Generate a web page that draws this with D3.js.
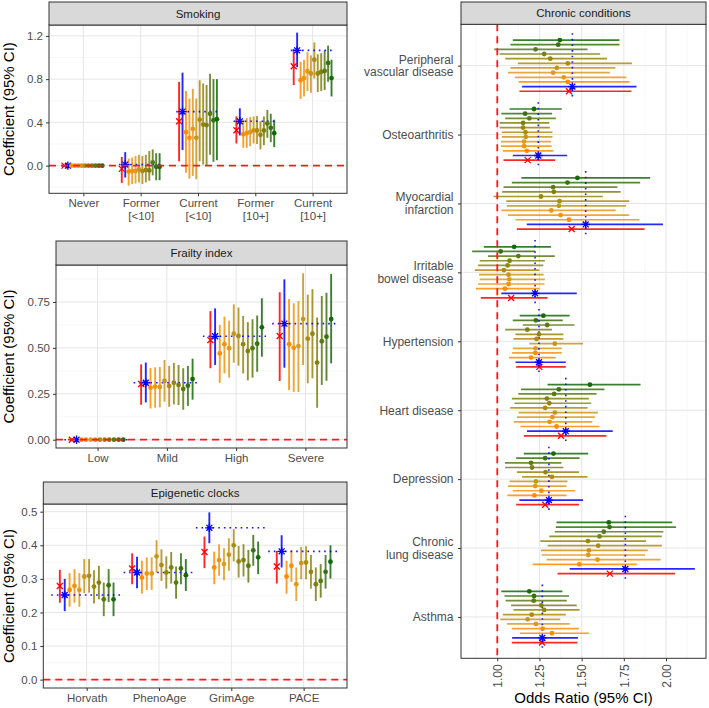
<!DOCTYPE html>
<html><head><meta charset="utf-8">
<script src="https://cdn.jsdelivr.net/npm/d3@7"></script>
<style>body{margin:0;background:#fff} text{font-family:"Liberation Sans",Arial,sans-serif}</style>
</head><body><svg id="c" width="709" height="708"></svg>
<script>
// ---- series (red X, blue asterisk, then 10 graded series) ----
const seriesNames = ["Model A","Model B","S1","S2","S3","S4","S5","S6","S7","S8","S9","S10"];
const seriesColors = ["#FF0000","#0000FF","#FF8C00","#F29310","#DF9A1E","#C8951C","#B08A10","#968512","#7E8010","#5A7A14","#387012","#146A0A"];

// ---- Smoking ----
const smokingCats = ["Never","Former\n[<10]","Current\n[<10]","Former\n[10+]","Current\n[10+]"];
const smokingEst = [
  [0,0,0,0,0,0,0,0,0,0,0,0],
  [-0.03,0.01,-0.055,-0.05,-0.05,-0.035,-0.05,-0.04,-0.045,0.03,-0.01,-0.01],
  [0.41,0.50,0.31,0.257,0.34,0.257,0.425,0.38,0.375,0.48,0.42,0.43],
  [0.327,0.41,0.29,0.30,0.31,0.327,0.325,0.285,0.325,0.39,0.35,0.30],
  [0.919,1.066,0.79,0.81,0.873,0.852,0.98,0.852,0.867,0.876,0.95,0.81]];
const smokingLo = [
  [0,0,0,0,0,0,0,0,0,0,0,0],
  [-0.16,-0.11,-0.185,-0.17,-0.165,-0.155,-0.17,-0.155,-0.14,-0.09,-0.135,-0.135],
  [0.04,0.145,-0.065,-0.12,-0.095,-0.125,0.04,0.01,0.005,0.10,0.035,0.05],
  [0.205,0.28,0.165,0.165,0.18,0.205,0.2,0.15,0.19,0.257,0.217,0.171],
  [0.745,0.91,0.617,0.64,0.69,0.675,0.806,0.68,0.69,0.70,0.776,0.64]];
const smokingHi = [
  [0,0,0,0,0,0,0,0,0,0,0,0],
  [0.08,0.125,0.065,0.075,0.09,0.1,0.09,0.1,0.135,0.15,0.115,0.115],
  [0.775,0.86,0.69,0.62,0.71,0.62,0.79,0.76,0.745,0.85,0.80,0.80],
  [0.455,0.53,0.425,0.44,0.45,0.455,0.46,0.41,0.455,0.515,0.48,0.425],
  [1.08,1.23,0.96,0.98,1.05,1.02,1.14,1.03,1.04,1.065,1.11,0.98]];
const smokingTicks = [0,0.4,0.8,1.2];

// ---- Frailty index ----
const frailtyCats = ["Low","Mild","High","Severe"];
const frailtyEst = [
  [0,0,0,0,0,0,0,0,0,0,0,0],
  [0.303,0.31,0.283,0.289,0.287,0.32,0.292,0.31,0.298,0.276,0.294,0.33],
  [0.543,0.563,0.47,0.52,0.498,0.577,0.565,0.52,0.483,0.498,0.523,0.612],
  [0.565,0.632,0.52,0.50,0.51,0.657,0.55,0.577,0.42,0.536,0.561,0.657]];
const frailtyLo = [
  [0,0,0,0,0,0,0,0,0,0,0,0],
  [0.19,0.203,0.17,0.174,0.176,0.207,0.179,0.192,0.189,0.163,0.184,0.218],
  [0.389,0.407,0.31,0.361,0.338,0.419,0.403,0.361,0.323,0.338,0.37,0.452],
  [0.32,0.392,0.27,0.26,0.26,0.407,0.307,0.334,0.174,0.298,0.321,0.416]];
const frailtyHi = [
  [0,0,0,0,0,0,0,0,0,0,0,0],
  [0.41,0.42,0.39,0.394,0.396,0.434,0.402,0.418,0.407,0.389,0.402,0.441],
  [0.70,0.715,0.625,0.67,0.648,0.737,0.72,0.674,0.64,0.656,0.676,0.77],
  [0.803,0.873,0.766,0.743,0.755,0.906,0.79,0.82,0.665,0.783,0.80,0.902]];
const frailtyTicks = [0,0.25,0.5,0.75];

// ---- Epigenetic clocks ----
const clockCats = ["Horvath","PhenoAge","GrimAge","PACE"];
const clockEst = [
  [0.279,0.252,0.267,0.279,0.267,0.307,0.309,0.277,0.289,0.239,0.281,0.239],
  [0.331,0.319,0.304,0.316,0.316,0.367,0.341,0.319,0.334,0.289,0.331,0.311],
  [0.38,0.452,0.334,0.356,0.344,0.372,0.40,0.352,0.356,0.339,0.385,0.364],
  [0.337,0.382,0.307,0.339,0.284,0.347,0.349,0.321,0.284,0.294,0.321,0.351]];
const clockLo = [
  [0.229,0.204,0.217,0.229,0.217,0.257,0.259,0.227,0.239,0.189,0.231,0.189],
  [0.284,0.272,0.256,0.267,0.267,0.319,0.294,0.271,0.286,0.241,0.284,0.264],
  [0.332,0.406,0.284,0.309,0.296,0.324,0.352,0.304,0.307,0.289,0.339,0.314],
  [0.286,0.334,0.256,0.291,0.234,0.299,0.299,0.271,0.234,0.244,0.271,0.301]];
const clockHi = [
  [0.327,0.30,0.317,0.329,0.317,0.359,0.359,0.326,0.339,0.289,0.329,0.289],
  [0.376,0.366,0.354,0.364,0.364,0.415,0.388,0.367,0.38,0.337,0.376,0.359],
  [0.426,0.498,0.381,0.403,0.391,0.421,0.448,0.398,0.403,0.386,0.431,0.411],
  [0.383,0.43,0.354,0.385,0.334,0.395,0.397,0.371,0.334,0.344,0.371,0.40]];
const clockTicks = [0,0.1,0.2,0.3,0.4,0.5];

// ---- Chronic conditions (odds ratios) ----
const condCats = ["Peripheral\nvascular disease","Osteoarthritis","Myocardial\ninfarction","Irritable\nbowel disease","Hypertension","Heart disease","Depression","Chronic\nlung disease","Asthma"];
const condEst = [
  [1.425,1.445,1.418,1.394,1.331,1.353,1.418,1.314,1.278,1.227,1.361,1.371],
  [1.18,1.243,1.175,1.159,1.159,1.169,1.167,1.153,1.153,1.19,1.165,1.218],
  [1.441,1.524,1.425,1.375,1.32,1.365,1.369,1.259,1.335,1.331,1.416,1.475],
  [1.082,1.224,1.045,1.067,1.071,1.067,1.039,1.061,1.073,1.125,1.02,1.10],
  [1.249,1.247,1.20,1.225,1.227,1.341,1.233,1.247,1.178,1.296,1.229,1.273],
  [1.378,1.406,1.351,1.31,1.327,1.341,1.284,1.308,1.294,1.337,1.365,1.549],
  [1.284,1.306,1.22,1.261,1.225,1.229,1.324,1.286,1.206,1.20,1.284,1.333],
  [1.667,1.759,1.486,1.594,1.539,1.543,1.598,1.537,1.606,1.631,1.665,1.661],
  [1.265,1.267,1.324,1.269,1.229,1.18,1.204,1.278,1.261,1.216,1.218,1.19]];
const condLo = [
  [1.131,1.147,1.127,1.104,1.063,1.078,1.122,1.047,1.014,0.982,1.078,1.092],
  [1.037,1.092,1.033,1.022,1.022,1.027,1.027,1.014,1.014,1.047,1.024,1.073],
  [1.116,1.175,1.108,1.063,1.025,1.057,1.053,0.978,1.029,1.037,1.086,1.143],
  [0.902,1.024,0.873,0.886,0.896,0.892,0.867,0.886,0.896,0.945,0.851,0.92],
  [1.112,1.108,1.069,1.088,1.092,1.19,1.096,1.108,1.047,1.151,1.092,1.133],
  [1.157,1.176,1.137,1.098,1.116,1.127,1.076,1.102,1.086,1.125,1.141,1.298],
  [1.112,1.131,1.059,1.092,1.063,1.073,1.147,1.116,1.047,1.045,1.112,1.157],
  [1.357,1.429,1.21,1.292,1.263,1.259,1.298,1.255,1.308,1.341,1.347,1.351],
  [1.086,1.088,1.135,1.086,1.057,1.018,1.033,1.096,1.082,1.049,1.043,1.024]];
const condHi = [
  [1.794,1.825,1.784,1.765,1.667,1.70,1.798,1.651,1.61,1.535,1.724,1.724],
  [1.343,1.414,1.331,1.322,1.318,1.327,1.327,1.312,1.308,1.347,1.325,1.382],
  [1.873,1.982,1.841,1.782,1.702,1.763,1.782,1.625,1.731,1.712,1.847,1.906],
  [1.298,1.471,1.251,1.280,1.282,1.275,1.249,1.273,1.282,1.341,1.224,1.318],
  [1.406,1.406,1.347,1.382,1.382,1.508,1.392,1.392,1.324,1.457,1.388,1.429],
  [1.647,1.684,1.606,1.563,1.578,1.596,1.535,1.557,1.543,1.588,1.635,1.849],
  [1.484,1.508,1.41,1.461,1.41,1.416,1.535,1.484,1.392,1.38,1.488,1.539],
  [2.053,2.171,1.827,1.969,1.876,1.892,1.975,1.882,1.975,1.984,2.059,2.037],
  [1.475,1.478,1.543,1.484,1.429,1.373,1.406,1.488,1.471,1.412,1.425,1.386]];
const condTicks = [1.00,1.25,1.50,1.75,2.00];

// ================= drawing =================
const svg = d3.select("#c");
const TICKCOL = "#4D4D4D", BORDER = "#333333", MAJOR = "#E6E6E6", MINOR = "#F2F2F2";

function padExtent(arrs, ref){
  const v = arrs.flatMap(a => a.flat()).concat([ref]);
  const [mn, mx] = d3.extent(v); const p = (mx - mn) * 0.05;
  return [mn - p, mx + p];
}
function minorOf(ticks, dom){
  const s = ticks[1] - ticks[0];
  return d3.range(ticks[0] - s/2, ticks[ticks.length-1] + s, s).filter(v => v > dom[0] && v < dom[1]);
}
function marker(g, kind, cx, cy, col){
  if (kind === 0){
    const s = 3;
    g.append("path").attr("d",`M${cx-s},${cy-s}L${cx+s},${cy+s}M${cx-s},${cy+s}L${cx+s},${cy-s}`)
      .attr("stroke",col).attr("stroke-width",1.3).attr("fill","none");
  } else if (kind === 1){
    const r = 4.2, d = r*0.7071;
    g.append("path").attr("d",`M${cx-r},${cy}L${cx+r},${cy}M${cx},${cy-r}L${cx},${cy+r}M${cx-d},${cy-d}L${cx+d},${cy+d}M${cx-d},${cy+d}L${cx+d},${cy-d}`)
      .attr("stroke",col).attr("stroke-width",1.3).attr("fill","none");
  } else {
    g.append("circle").attr("cx",cx).attr("cy",cy).attr("r",2.4).attr("fill",col);
  }
}
function strip(x0,x1,y0,y1,label){
  svg.append("rect").attr("x",x0).attr("y",y0).attr("width",x1-x0).attr("height",y1-y0)
    .attr("fill","#D9D9D9").attr("stroke",BORDER).attr("stroke-width",1);
  svg.append("text").attr("x",(x0+x1)/2).attr("y",(y0+y1)/2).attr("dy","0.35em")
    .attr("text-anchor","middle").attr("font-size",11.5).attr("fill","#1A1A1A").text(label);
}
function styleAxis(ax, fs){
  ax.select(".domain").remove();
  ax.selectAll(".tick line").attr("stroke",BORDER);
  ax.selectAll(".tick text").attr("fill",TICKCOL).attr("font-size",fs).attr("font-family","Liberation Sans, Arial, sans-serif");
}

function leftPanel(c){
  const x = d3.scalePoint().domain(c.cats).range([c.x0, c.x1]).padding(0.6);
  const dom = padExtent([c.est, c.lo, c.hi], 0);
  const y = d3.scaleLinear().domain(dom).range([c.y1, c.y0]);
  const g = svg.append("g");
  g.append("rect").attr("x",c.x0).attr("y",c.y0).attr("width",c.x1-c.x0).attr("height",c.y1-c.y0).attr("fill","#fff");
  minorOf(c.ticks, dom).forEach(v => g.append("line").attr("x1",c.x0).attr("x2",c.x1).attr("y1",y(v)).attr("y2",y(v)).attr("stroke",MINOR).attr("stroke-width",0.6));
  c.ticks.forEach(v => g.append("line").attr("x1",c.x0).attr("x2",c.x1).attr("y1",y(v)).attr("y2",y(v)).attr("stroke",MAJOR).attr("stroke-width",1));
  c.cats.forEach(k => g.append("line").attr("x1",x(k)).attr("x2",x(k)).attr("y1",c.y0).attr("y2",c.y1).attr("stroke",MAJOR).attr("stroke-width",1));
  const step = c.dodge * x.step();
  const px = (ci, si) => x(c.cats[ci]) + (si - 5.5) * step;
  c.cats.forEach((k, ci) => seriesNames.forEach((s, si) => {
    g.append("line").attr("x1",px(ci,si)).attr("x2",px(ci,si)).attr("y1",y(c.lo[ci][si])).attr("y2",y(c.hi[ci][si]))
      .attr("stroke",seriesColors[si]).attr("stroke-width",1.9).attr("stroke-opacity",0.85);
  }));
  c.cats.forEach((k, ci) => g.append("line").attr("x1",x(k)-c.bh*x.step()).attr("x2",x(k)+c.bh*x.step())
    .attr("y1",y(c.est[ci][1])).attr("y2",y(c.est[ci][1])).attr("stroke","#0000FF").attr("stroke-width",1.6)
    .attr("stroke-dasharray","1.6,4").attr("opacity",0.9));
  c.cats.forEach((k, ci) => seriesNames.forEach((s, si) => marker(g, si < 2 ? si : 2, px(ci,si), y(c.est[ci][si]), seriesColors[si])));
  g.append("line").attr("x1",c.x0).attr("x2",c.x1).attr("y1",y(0)).attr("y2",y(0)).attr("stroke","#FF1A1A")
    .attr("stroke-width",1.8).attr("stroke-dasharray","7,5");
  g.append("rect").attr("x",c.x0).attr("y",c.y0).attr("width",c.x1-c.x0).attr("height",c.y1-c.y0)
    .attr("fill","none").attr("stroke",BORDER).attr("stroke-width",1);
  strip(c.x0, c.x1, c.sy, c.y0, c.title);
  const ay = svg.append("g").attr("transform",`translate(${c.x0},0)`)
    .call(d3.axisLeft(y).tickValues(c.ticks).tickFormat(d3.format(c.fmt)).tickSize(3).tickPadding(3));
  styleAxis(ay, 11.5);
  const axx = svg.append("g").attr("transform",`translate(0,${c.y1})`)
    .call(d3.axisBottom(x).tickSize(3).tickPadding(3));
  styleAxis(axx, 11.5);
  axx.selectAll(".tick text").each(function(d){
    const t = d3.select(this); const lines = d.split("\n"); t.text(null); t.attr("dy", null);
    lines.forEach((l, i) => t.append("tspan").attr("x",0).attr("dy", i === 0 ? "0.71em" : "1.08em").text(l));
  });
  svg.append("text").attr("transform",`translate(13.5,${(c.y0+c.y1)/2}) rotate(-90)`).attr("text-anchor","middle")
    .attr("font-size",15).attr("fill","#000").text("Coefficient (95% CI)");
}

function rightPanel(c){
  const dom = padExtent([c.est, c.lo, c.hi], 1);
  const x = d3.scaleLinear().domain(dom).range([c.x0, c.x1]);
  const y = d3.scalePoint().domain(c.cats).range([c.y0, c.y1]).padding(0.6);
  const g = svg.append("g");
  g.append("rect").attr("x",c.x0).attr("y",c.y0).attr("width",c.x1-c.x0).attr("height",c.y1-c.y0).attr("fill","#fff");
  minorOf(c.ticks, dom).forEach(v => g.append("line").attr("x1",x(v)).attr("x2",x(v)).attr("y1",c.y0).attr("y2",c.y1).attr("stroke",MINOR).attr("stroke-width",0.6));
  c.ticks.forEach(v => g.append("line").attr("x1",x(v)).attr("x2",x(v)).attr("y1",c.y0).attr("y2",c.y1).attr("stroke",MAJOR).attr("stroke-width",1));
  c.cats.forEach(k => g.append("line").attr("x1",c.x0).attr("x2",c.x1).attr("y1",y(k)).attr("y2",y(k)).attr("stroke",MAJOR).attr("stroke-width",1));
  const step = c.dodge * y.step();
  const py = (ci, si) => y(c.cats[ci]) + (5.5 - si) * step;
  c.cats.forEach((k, ci) => seriesNames.forEach((s, si) => {
    g.append("line").attr("y1",py(ci,si)).attr("y2",py(ci,si)).attr("x1",x(c.lo[ci][si])).attr("x2",x(c.hi[ci][si]))
      .attr("stroke",seriesColors[si]).attr("stroke-width",1.7).attr("stroke-opacity",0.85);
  }));
  c.cats.forEach((k, ci) => g.append("line").attr("y1",y(k)-c.bh*y.step()).attr("y2",y(k)+c.bh*y.step())
    .attr("x1",x(c.est[ci][1])).attr("x2",x(c.est[ci][1])).attr("stroke","#0000FF").attr("stroke-width",1.6)
    .attr("stroke-dasharray","1.6,4").attr("opacity",0.9));
  c.cats.forEach((k, ci) => seriesNames.forEach((s, si) => marker(g, si < 2 ? si : 2, x(c.est[ci][si]), py(ci,si), seriesColors[si])));
  g.append("line").attr("x1",x(1)).attr("x2",x(1)).attr("y1",c.y0).attr("y2",c.y1).attr("stroke","#FF1A1A")
    .attr("stroke-width",1.8).attr("stroke-dasharray","7,5");
  g.append("rect").attr("x",c.x0).attr("y",c.y0).attr("width",c.x1-c.x0).attr("height",c.y1-c.y0)
    .attr("fill","none").attr("stroke",BORDER).attr("stroke-width",1);
  strip(c.x0, c.x1, c.sy, c.y0, c.title);
  const ay = svg.append("g").attr("transform",`translate(${c.x0},0)`)
    .call(d3.axisLeft(y).tickSize(3).tickPadding(4.5));
  styleAxis(ay, 12);
  ay.selectAll(".tick text").each(function(d){
    const t = d3.select(this); const lines = d.split("\n"); t.text(null); t.attr("dy", null);
    lines.forEach((l, i) => t.append("tspan").attr("x",-7.5).attr("dy", i === 0 ? `${0.32-(lines.length-1)*0.53}em` : "1.06em").text(l));
  });
  const axx = svg.append("g").attr("transform",`translate(0,${c.y1})`)
    .call(d3.axisBottom(x).tickValues(c.ticks).tickFormat(d3.format(".2f")).tickSize(3).tickPadding(3));
  styleAxis(axx, 12);
  axx.selectAll(".tick text").attr("transform","rotate(-90)").attr("text-anchor","end")
    .attr("x",-6).attr("y",0).attr("dy","0.35em");
  svg.append("text").attr("x",(c.x0+c.x1)/2).attr("y",703).attr("text-anchor","middle")
    .attr("font-size",15).attr("fill","#000").text("Odds Ratio (95% CI)");
}

leftPanel({title:"Smoking", cats:smokingCats, est:smokingEst, lo:smokingLo, hi:smokingHi, ticks:smokingTicks, fmt:".1f",
  x0:49, x1:347, y0:25, y1:193.3, sy:2, dodge:0.06, bh:0.38});
leftPanel({title:"Frailty index", cats:frailtyCats, est:frailtyEst, lo:frailtyLo, hi:frailtyHi, ticks:frailtyTicks, fmt:".2f",
  x0:56, x1:347, y0:265, y1:448, sy:241, dodge:0.0675, bh:0.48});
leftPanel({title:"Epigenetic clocks", cats:clockCats, est:clockEst, lo:clockLo, hi:clockHi, ticks:clockTicks, fmt:".1f",
  x0:43.3, x1:347, y0:504, y1:688, sy:482, dodge:0.0675, bh:0.49});
rightPanel({title:"Chronic conditions", cats:condCats, est:condEst, lo:condLo, hi:condHi, ticks:condTicks,
  x0:461, x1:706, y0:24.3, y1:658.3, sy:2, dodge:0.0675, bh:0.47});
</script></body></html>
